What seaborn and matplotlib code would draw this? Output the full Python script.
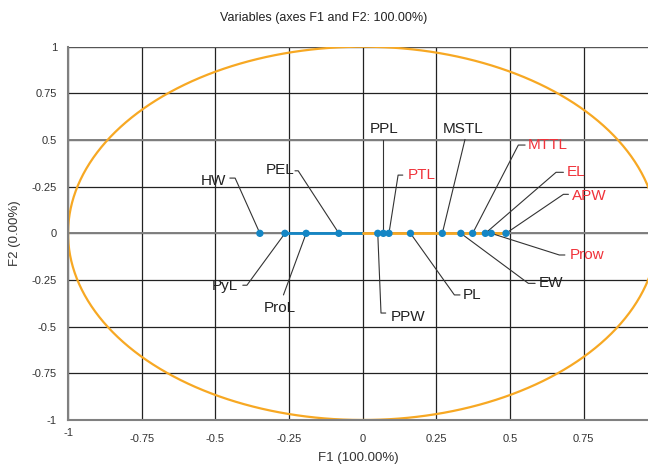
import numpy as np
import pandas as pd
import matplotlib
matplotlib.use("Agg")
import matplotlib.pyplot as plt
import matplotlib.transforms as mtransforms
import seaborn as sns

# variable loadings on F1 / F2
variables = ["HW", "PyL", "ProL", "PEL", "PPW", "PPL", "PTL", "PL",
             "MSTL", "EW", "MTTL", "EL", "Prow", "APW"]
f1 = [-0.349, -0.264, -0.192, -0.081, 0.051, 0.070, 0.089, 0.162,
      0.270, 0.333, 0.373, 0.416, 0.436, 0.486]
f2 = [0.0] * len(variables)
red_vars = ["PTL", "MTTL", "EL", "APW", "Prow"]

xticks = [-1, -0.75, -0.5, -0.25, 0, 0.25, 0.5, 0.75]
xtick_labels = ["-1", "-0.75", "-0.5", "-0.25", "0", "0.25", "0.5", "0.75"]
yticks = [1, 0.75, 0.5, 0.25, 0, -0.25, -0.5, -0.75, -1]
ytick_labels = ["1", "0.75", "0.5", "-0.25", "0", "-0.25", "-0.5", "-0.75", "-1"]

# label layout: text pos, ha, leader elbow, tick length
label_layout = {
    "HW":   ((-0.462, 0.280), "right", (-0.433, 0.296), -0.018),
    "PEL":  ((-0.230, 0.339), "right", (-0.219, 0.335), -0.011),
    "PPL":  ((0.072, 0.560), "center", (0.070, 0.500), 0),
    "PTL":  ((0.154, 0.312), "left", (0.120, 0.312), 0.016),
    "PyL":  ((-0.423, -0.281), "right", (-0.393, -0.278), -0.014),
    "ProL": ((-0.281, -0.400), "center", (-0.269, -0.330), 0),
    "PPW":  ((0.095, -0.447), "left", (0.062, -0.427), 0.016),
    "MSTL": ((0.341, 0.558), "center", (0.347, 0.503), 0),
    "MTTL": ((0.560, 0.473), "left", (0.528, 0.473), 0.023),
    "EL":   ((0.692, 0.330), "left", (0.656, 0.327), 0.025),
    "APW":  ((0.709, 0.200), "left", (0.681, 0.209), 0.017),
    "Prow": ((0.701, -0.116), "left", (0.667, -0.116), 0.019),
    "EW":   ((0.596, -0.268), "left", (0.562, -0.268), 0.023),
    "PL":   ((0.341, -0.330), "left", (0.311, -0.330), 0.019),
}

df = pd.DataFrame({"variable": variables, "F1": f1, "F2": f2})

sns.set_style("white")
plt.rcParams["font.family"] = ["Liberation Sans", "DejaVu Sans"]

blue = "#1486C5"
orange = "#F7A823"
red = "#F0323A"

fig = plt.figure(figsize=(6.48, 4.65), dpi=100)
ax = fig.add_axes([0.105, 0.0968, 0.895, 0.8028])

ax.set_xlim(-1, 0.968)
ax.set_ylim(-1, 1)

# grid
for t in xticks:
    ax.axvline(t, color="#222222", lw=0.9, zorder=1)
for t in yticks:
    ax.axhline(t, color="#222222", lw=0.9, zorder=1)
ax.axhline(0, color="#808080", lw=1.4, zorder=1)
ax.axhline(0.5, color="#808080", lw=1.4, zorder=1)

# correlation circle
theta = np.linspace(0, 2 * np.pi, 400)
ax.plot(np.cos(theta), np.sin(theta), color=orange, lw=1.6, zorder=2)

# vectors from origin
neg = df[df["F1"] < 0]["F1"]
pos = df[df["F1"] > 0]["F1"]
ax.plot([neg.iloc[1], 0], [0, 0], color=blue, lw=2, zorder=3)
ax.plot([0, pos.max()], [0, 0], color=orange, lw=2, zorder=3)

sns.scatterplot(data=df, x="F1", y="F2", color=blue, s=28, edgecolor="none",
                zorder=5, ax=ax, legend=False)

for name, x, y in zip(variables, f1, f2):
    (tx, ty), ha, (ex, ey), tick = label_layout[name]
    ax.plot([x, ex, ex + tick], [y, ey, ey], color="#333333", lw=0.8, zorder=4)
    col = red if name in red_vars else "#222222"
    ax.text(tx, ty, name, ha=ha, va="center", fontsize=11, color=col, zorder=6)

ax.set_xticks(xticks)
ax.set_xticklabels(xtick_labels, fontsize=8, color="#333333")
ax.set_yticks(yticks)
ax.set_yticklabels(ytick_labels, fontsize=8, color="#333333")
ax.tick_params(axis="x", pad=10, length=0)
ax.tick_params(axis="y", pad=8, length=0)

# first x label sits a bit higher, as in the original
lab0 = ax.get_xticklabels()[0]
lab0.set_transform(lab0.get_transform() +
                   mtransforms.ScaledTranslation(0, 4 / 72, fig.dpi_scale_trans))

for side in ["top", "right"]:
    ax.spines[side].set_visible(False)
for side in ["left", "bottom"]:
    ax.spines[side].set_color("#808080")
    ax.spines[side].set_linewidth(1.5)
ax.axhline(1, color="#555555", lw=1.5, zorder=1)

ax.set_xlabel("F1 (100.00%)", fontsize=9.5, color="#333333", labelpad=6)
ax.set_ylabel("F2 (0.00%)", fontsize=9.5, color="#333333", labelpad=8)
fig.text(0.5, 0.962, "Variables (axes F1 and F2: 100.00%)", ha="center",
         va="center", fontsize=9, color="#222222")

fig.savefig("out.png", dpi=100)
